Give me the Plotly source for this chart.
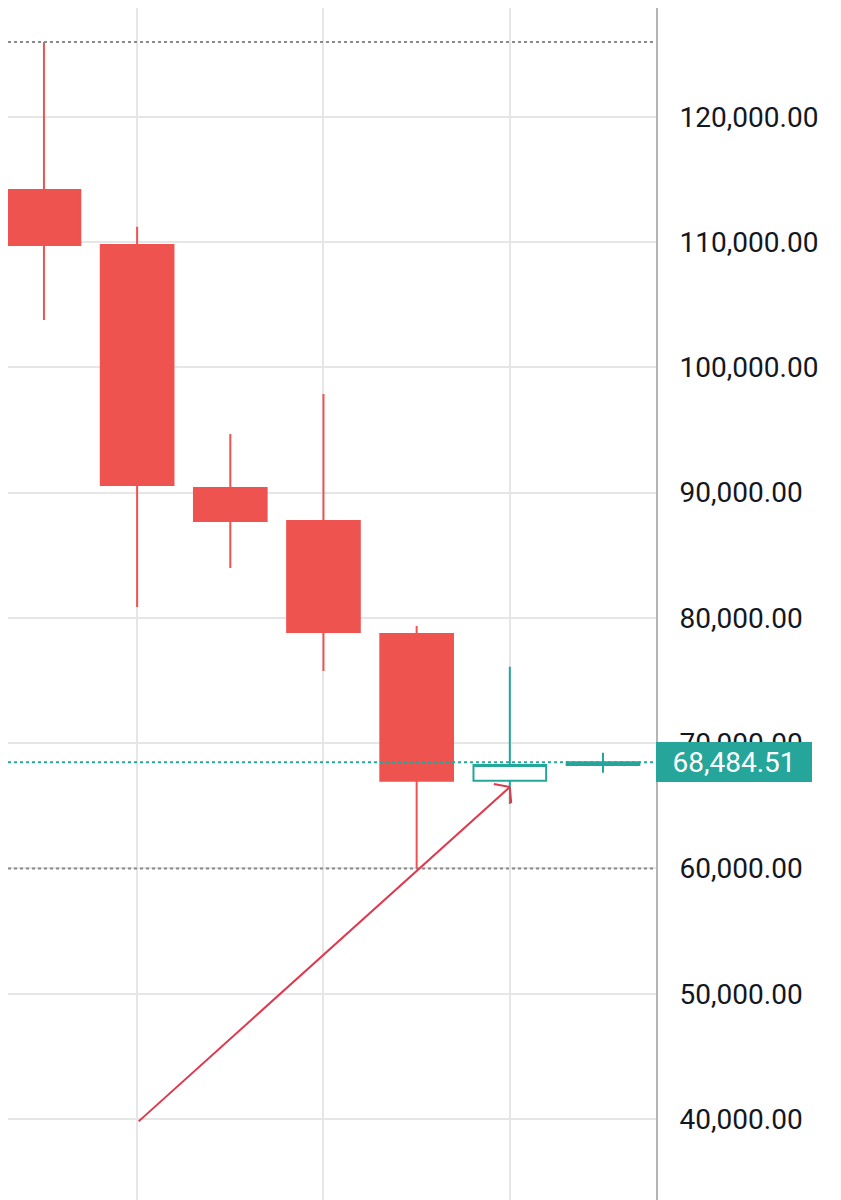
import plotly.graph_objects as go

# ---- data (monthly candles) ----
months = ["2025-10", "2025-11", "2025-12", "2026-01", "2026-02", "2026-03", "2026-04"]
opens = [114150, 109760, 90370, 87730, 78710, 67010, 68260]
highs = [125960, 111220, 94680, 97870, 79350, 76100, 69240]
lows = [103780, 80870, 83980, 75760, 60000, 65150, 67650]
closes = [109760, 90610, 87730, 78870, 67010, 68260, 68484.51]

last_price = 68484.51
y_ticks = [40000, 50000, 60000, 70000, 80000, 90000, 100000, 110000, 120000]
extra_tick = 130000
y_range = [33543, 128675]
x_range = [-0.386, 6.569]

# hand-drawn arrow (start/end in data space: category index, price)
arrow_start = (1, 39710)
arrow_end = (5, 66500)

RED = "#ef5350"
TEAL = "#26a69a"
ARROW = "#e0384c"
GRID = "#e6e6e6"
FONT = "Roboto"

fig = go.Figure()
fig.add_trace(go.Candlestick(
    x=months, open=opens, high=highs, low=lows, close=closes,
    increasing=dict(line=dict(color=TEAL, width=2), fillcolor="#ffffff"),
    decreasing=dict(line=dict(color=RED, width=2), fillcolor=RED),
    whiskerwidth=0,
    hoverinfo="skip",
    showlegend=False,
))

# dotted horizontal reference lines
for lvl, col in [(max(highs), "#8a8a8a"), (min(lows), "#8a8a8a"), (last_price, TEAL)]:
    fig.add_shape(type="line", xref="paper", x0=0, x1=1, yref="y", y0=lvl, y1=lvl,
                  line=dict(color=col, width=2, dash="dot"), layer="above")

# price label
fig.add_annotation(xref="paper", x=1, xanchor="left", yref="y", y=last_price, yanchor="middle",
                   text=f"{last_price:,.2f}", showarrow=False,
                   font=dict(family=FONT, size=28, color="#ffffff"),
                   bgcolor=TEAL, bordercolor=TEAL, borderwidth=0, borderpad=4,
                   width=148, height=32, align="center")

# partially visible top tick label
frac = (extra_tick - y_range[0]) / (y_range[1] - y_range[0])
fig.add_annotation(xref="paper", x=1, xanchor="left", xshift=20, yref="paper", y=frac,
                   yanchor="middle", text=f"{extra_tick:,.2f}", showarrow=False,
                   font=dict(family=FONT, size=28, color="#131722"))

# arrow shaft
fig.add_annotation(x=arrow_end[0], y=arrow_end[1], xref="x", yref="y",
                   ax=arrow_start[0], ay=arrow_start[1], axref="x", ayref="y",
                   showarrow=True, arrowhead=0, arrowwidth=2,
                   arrowcolor=ARROW, text="")
# open arrowhead barbs (pixel-sized, anchored at the tip)
for bx, by in [(-16, 3), (1.4, -16)]:
    fig.add_shape(type="line", xref="x", yref="y",
                  xsizemode="pixel", ysizemode="pixel",
                  xanchor=arrow_end[0], yanchor=arrow_end[1],
                  x0=0, y0=0, x1=bx, y1=by,
                  line=dict(color=ARROW, width=2), layer="above")

fig.update_layout(
    width=833, height=1192,
    margin=dict(l=0, r=185, t=0, b=0),
    paper_bgcolor="#ffffff", plot_bgcolor="#ffffff",
    boxgap=0.22, boxgroupgap=0,
    font=dict(family=FONT, size=28, color="#131722"),
    showlegend=False,
)
fig.update_xaxes(
    type="category", range=x_range, rangeslider=dict(visible=False),
    tickmode="array", tickvals=[months[1], months[3], months[5]],
    showticklabels=False, ticks="", showgrid=True, gridcolor=GRID, gridwidth=2,
    zeroline=False, showline=False,
)
fig.update_yaxes(
    side="right", range=y_range, tickmode="array", tickvals=y_ticks,
    tickformat=",.2f", ticks="", ticklabelstandoff=16,
    showgrid=True, gridcolor=GRID, gridwidth=2, zeroline=False,
    showline=True, linecolor="#b5b5b5", linewidth=2,
    tickfont=dict(family=FONT, size=28, color="#131722"),
)

fig.write_html("out.html")
